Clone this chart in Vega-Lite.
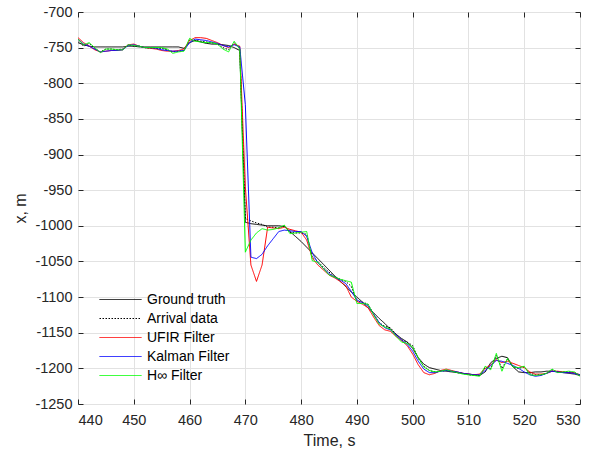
{
  "$schema": "https://vega.github.io/schema/vega-lite/v6.json",
  "width": 502,
  "height": 392,
  "autosize": {"type": "none"},
  "padding": {"left": 78, "top": 12, "right": 20, "bottom": 53},
  "background": "white",
  "config": {
    "font": "Liberation Sans",
    "view": {"stroke": "#262626", "strokeWidth": 1},
    "axis": {
      "domain": false,
      "grid": true,
      "gridColor": "#e2e2e2",
      "gridWidth": 1,
      "tickColor": "#262626",
      "tickSize": -5,
      "labelColor": "#262626",
      "labelFontSize": 14.5,
      "titleColor": "#262626",
      "titleFontSize": 16,
      "titleFontWeight": "normal"
    }
  },
  "data": {"values": [
    {"t":440,"g":-743,"a":-740,"u":-736,"k":-738,"h":-738},
    {"t":441,"g":-746,"a":-748,"u":-743,"k":-745,"h":-746},
    {"t":442,"g":-748,"a":-744,"u":-748,"k":-748,"h":-743},
    {"t":443,"g":-749,"a":-751,"u":-753,"k":-752,"h":-750},
    {"t":444,"g":-749,"a":-756,"u":-756,"k":-756,"h":-757},
    {"t":445,"g":-749,"a":-752,"u":-755,"k":-755,"h":-752},
    {"t":446,"g":-749,"a":-752,"u":-754,"k":-754,"h":-752},
    {"t":447,"g":-749,"a":-753,"u":-754,"k":-754,"h":-753},
    {"t":448,"g":-749,"a":-752,"u":-753,"k":-753,"h":-753},
    {"t":449,"g":-748,"a":-746,"u":-746,"k":-747,"h":-746},
    {"t":450,"g":-748,"a":-748,"u":-745,"k":-746,"h":-747},
    {"t":451,"g":-749,"a":-748,"u":-748,"k":-748,"h":-748},
    {"t":452,"g":-749,"a":-750,"u":-750,"k":-750,"h":-750},
    {"t":453,"g":-749,"a":-751,"u":-751,"k":-750,"h":-750},
    {"t":454,"g":-749,"a":-751,"u":-752,"k":-751,"h":-750},
    {"t":455,"g":-749,"a":-751,"u":-754,"k":-753,"h":-750},
    {"t":456,"g":-749,"a":-753,"u":-755,"k":-754,"h":-752},
    {"t":457,"g":-749,"a":-756,"u":-755,"k":-755,"h":-758},
    {"t":458,"g":-749,"a":-755,"u":-754,"k":-755,"h":-756},
    {"t":459,"g":-751,"a":-754,"u":-752,"k":-754,"h":-755},
    {"t":460,"g":-743,"a":-739,"u":-740,"k":-743,"h":-737},
    {"t":461,"g":-740,"a":-740,"u":-736,"k":-738,"h":-741},
    {"t":462,"g":-742,"a":-741,"u":-736,"k":-739,"h":-742},
    {"t":463,"g":-744,"a":-742,"u":-737,"k":-740,"h":-743},
    {"t":464,"g":-745,"a":-743,"u":-740,"k":-742,"h":-743},
    {"t":465,"g":-745,"a":-745,"u":-743,"k":-744,"h":-745},
    {"t":466,"g":-746,"a":-750,"u":-747,"k":-747,"h":-752},
    {"t":467,"g":-747,"a":-753,"u":-750,"k":-749,"h":-756},
    {"t":468,"g":-750,"a":-743,"u":-745,"k":-746,"h":-741},
    {"t":469,"g":-754,"a":-751,"u":-748,"k":-749,"h":-752},
    {"t":470,"g":-995,"a":-990,"u":-945,"k":-830,"h":-1037},
    {"t":471,"g":-997,"a":-993,"u":-1055,"k":-1044,"h":-1020},
    {"t":472,"g":-998,"a":-996,"u":-1078,"k":-1046,"h":-1010},
    {"t":473,"g":-999,"a":-998,"u":-1055,"k":-1040,"h":-1004},
    {"t":474,"g":-1000,"a":-1002,"u":-1002,"k":-1028,"h":-1006},
    {"t":475,"g":-1000,"a":-1002,"u":-1003,"k":-1018,"h":-1005},
    {"t":476,"g":-1000,"a":-1003,"u":-1004,"k":-1008,"h":-1003},
    {"t":477,"g":-1001,"a":-1000,"u":-1002,"k":-1006,"h":-999},
    {"t":478,"g":-1008,"a":-1009,"u":-1005,"k":-1007,"h":-1011},
    {"t":479,"g":-1015,"a":-1010,"u":-1007,"k":-1008,"h":-1010},
    {"t":480,"g":-1022,"a":-1010,"u":-1009,"k":-1008,"h":-1009},
    {"t":481,"g":-1030,"a":-1012,"u":-1020,"k":-1015,"h":-1008},
    {"t":482,"g":-1038,"a":-1044,"u":-1045,"k":-1038,"h":-1049},
    {"t":483,"g":-1046,"a":-1050,"u":-1055,"k":-1052,"h":-1051},
    {"t":484,"g":-1054,"a":-1058,"u":-1062,"k":-1060,"h":-1060},
    {"t":485,"g":-1062,"a":-1065,"u":-1069,"k":-1067,"h":-1069},
    {"t":486,"g":-1070,"a":-1071,"u":-1073,"k":-1072,"h":-1072},
    {"t":487,"g":-1078,"a":-1075,"u":-1078,"k":-1076,"h":-1075},
    {"t":488,"g":-1085,"a":-1078,"u":-1084,"k":-1081,"h":-1077},
    {"t":489,"g":-1093,"a":-1085,"u":-1100,"k":-1092,"h":-1079},
    {"t":490,"g":-1100,"a":-1106,"u":-1106,"k":-1104,"h":-1109},
    {"t":491,"g":-1107,"a":-1107,"u":-1110,"k":-1108,"h":-1109},
    {"t":492,"g":-1115,"a":-1110,"u":-1115,"k":-1112,"h":-1110},
    {"t":493,"g":-1122,"a":-1124,"u":-1128,"k":-1124,"h":-1125},
    {"t":494,"g":-1130,"a":-1136,"u":-1140,"k":-1136,"h":-1138},
    {"t":495,"g":-1137,"a":-1141,"u":-1146,"k":-1143,"h":-1142},
    {"t":496,"g":-1145,"a":-1143,"u":-1148,"k":-1146,"h":-1145},
    {"t":497,"g":-1152,"a":-1152,"u":-1155,"k":-1153,"h":-1155},
    {"t":498,"g":-1158,"a":-1160,"u":-1161,"k":-1160,"h":-1163},
    {"t":499,"g":-1163,"a":-1163,"u":-1168,"k":-1166,"h":-1165},
    {"t":500,"g":-1172,"a":-1168,"u":-1180,"k":-1176,"h":-1170},
    {"t":501,"g":-1185,"a":-1186,"u":-1195,"k":-1190,"h":-1185},
    {"t":502,"g":-1194,"a":-1197,"u":-1206,"k":-1201,"h":-1198},
    {"t":503,"g":-1199,"a":-1203,"u":-1209,"k":-1206,"h":-1203},
    {"t":504,"g":-1201,"a":-1205,"u":-1207,"k":-1206,"h":-1205},
    {"t":505,"g":-1203,"a":-1204,"u":-1203,"k":-1204,"h":-1204},
    {"t":506,"g":-1204,"a":-1203,"u":-1201,"k":-1203,"h":-1202},
    {"t":507,"g":-1205,"a":-1204,"u":-1203,"k":-1204,"h":-1204},
    {"t":508,"g":-1206,"a":-1206,"u":-1205,"k":-1205,"h":-1206},
    {"t":509,"g":-1207,"a":-1207,"u":-1207,"k":-1207,"h":-1208},
    {"t":510,"g":-1208,"a":-1209,"u":-1208,"k":-1208,"h":-1209},
    {"t":511,"g":-1209,"a":-1210,"u":-1209,"k":-1209,"h":-1210},
    {"t":512,"g":-1210,"a":-1210,"u":-1208,"k":-1209,"h":-1211},
    {"t":513,"g":-1205,"a":-1199,"u":-1200,"k":-1203,"h":-1197},
    {"t":514,"g":-1192,"a":-1200,"u":-1195,"k":-1196,"h":-1202},
    {"t":515,"g":-1186,"a":-1182,"u":-1188,"k":-1189,"h":-1179},
    {"t":516,"g":-1183,"a":-1200,"u":-1192,"k":-1190,"h":-1204},
    {"t":517,"g":-1185,"a":-1187,"u":-1190,"k":-1193,"h":-1186},
    {"t":518,"g":-1198,"a":-1198,"u":-1193,"k":-1196,"h":-1198},
    {"t":519,"g":-1205,"a":-1200,"u":-1196,"k":-1200,"h":-1199},
    {"t":520,"g":-1206,"a":-1198,"u":-1199,"k":-1205,"h":-1197},
    {"t":521,"g":-1206,"a":-1207,"u":-1205,"k":-1209,"h":-1209},
    {"t":522,"g":-1205,"a":-1209,"u":-1208,"k":-1211,"h":-1210},
    {"t":523,"g":-1205,"a":-1209,"u":-1208,"k":-1210,"h":-1209},
    {"t":524,"g":-1204,"a":-1207,"u":-1207,"k":-1207,"h":-1207},
    {"t":525,"g":-1204,"a":-1202,"u":-1204,"k":-1204,"h":-1201},
    {"t":526,"g":-1205,"a":-1205,"u":-1204,"k":-1205,"h":-1206},
    {"t":527,"g":-1206,"a":-1205,"u":-1205,"k":-1206,"h":-1205},
    {"t":528,"g":-1207,"a":-1205,"u":-1206,"k":-1206,"h":-1204},
    {"t":529,"g":-1208,"a":-1206,"u":-1206,"k":-1207,"h":-1205},
    {"t":530,"g":-1210,"a":-1210,"u":-1209,"k":-1209,"h":-1211}
  ]},
  "transform": [{"fold": ["g", "a", "u", "k", "h"], "as": ["series", "value"]}],
  "layer": [
    {
      "mark": {"type": "line", "strokeWidth": 1, "clip": true},
      "encoding": {
        "x": {
          "field": "t", "type": "quantitative",
          "scale": {"domain": [440, 530], "nice": false},
          "axis": {"values": [440,450,460,470,480,490,500,510,520,530], "title": "Time, s", "labelPadding": 14, "titlePadding": 6}
        },
        "y": {
          "field": "value", "type": "quantitative",
          "scale": {"domain": [-1250, -700], "nice": false, "zero": false},
          "axis": {"values": [-1250,-1200,-1150,-1100,-1050,-1000,-950,-900,-850,-800,-750,-700], "labelExpr": "datum.value + ''", "title": "x, m", "labelPadding": 11, "titlePadding": 6}
        },
        "color": {
          "field": "series", "type": "nominal",
          "scale": {"domain": ["g", "a", "u", "k", "h"], "range": ["#000000", "#000000", "#ff0000", "#0000ff", "#00ff00"]},
          "legend": {
            "title": null,
            "orient": "none",
            "legendX": 14,
            "legendY": 280,
            "padding": 0,
            "symbolType": "M0,0H6",
            "symbolSize": 196,
            "symbolStrokeWidth": 1,
            "labelOffset": 40,
            "labelFontSize": 14,
            "labelColor": "#000000",
            "rowPadding": 4,
            "labelExpr": "{'g':'Ground truth','a':'Arrival data','u':'UFIR Filter','k':'Kalman Filter','h':'H∞ Filter'}[datum.label]"
          }
        },
        "strokeDash": {
          "field": "series", "type": "nominal",
          "scale": {"domain": ["g", "a", "u", "k", "h"], "range": [[1, 0], [1.5, 1.5], [1, 0], [1, 0], [1, 0]]},
          "legend": null
        }
      }
    },
    {
      "mark": {"type": "line", "opacity": 0},
      "encoding": {
        "x": {
          "field": "t", "type": "quantitative",
          "axis": {"orient": "top", "values": [440,450,460,470,480,490,500,510,520,530], "labels": false, "title": null, "grid": false}
        },
        "y": {
          "field": "value", "type": "quantitative",
          "axis": {"orient": "right", "values": [-1250,-1200,-1150,-1100,-1050,-1000,-950,-900,-850,-800,-750,-700], "labels": false, "title": null, "grid": false}
        }
      }
    }
  ],
  "resolve": {"axis": {"x": "independent", "y": "independent"}}
}
